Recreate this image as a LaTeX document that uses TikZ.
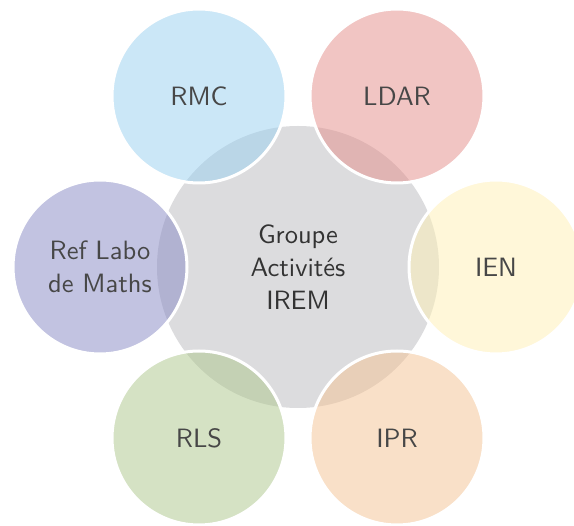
\documentclass[tikz,border=0pt]{standalone}
\usepackage{fontspec}
% 10pt design size of Latin Modern Sans, scaled up
\newfontfamily\labelfamily{lmsans10-regular.otf}
\begin{document}
\begin{tikzpicture}[x=1pt,y=-1pt,
  label font/.style={font=\labelfamily\fontsize{26.5}{33}\selectfont},
  hubnode/.style={circle, minimum size=282pt, inner sep=0pt, fill=hubgray,
    label font, text=black!80, align=center},
  satnode/.style={circle, minimum size=174pt, inner sep=0pt, draw=white,
    line width=3pt, fill opacity=0.5, draw opacity=1, text opacity=1,
    label font, text=black!72, align=center}]
  \definecolor{hubgray}{RGB}{220,220,222}
  \definecolor{cblue}{RGB}{153,209,241}
  \definecolor{cred}{RGB}{229,141,137}
  \definecolor{cyellow}{RGB}{255,241,181}
  \definecolor{cpurple}{RGB}{135,137,197}
  \definecolor{cgreen}{RGB}{173,199,139}
  \definecolor{corange}{RGB}{245,195,147}
  % page frame
  \fill[white] (0,0) rectangle (574,526);
  \useasboundingbox (0,0) rectangle (574,526);
  % central hub
  \node[hubnode] (hub) at (298,267) {Groupe\\Activités\\IREM};
  % surrounding partners, 60 degrees apart
  \node[satnode, fill=cblue]   (rmc)  at (199,96)  {RMC};
  \node[satnode, fill=cred]    (ldar) at (397,96)  {LDAR};
  \node[satnode, fill=cyellow] (ien)  at (496,267) {IEN};
  \node[satnode, fill=corange] (ipr)  at (397,438) {IPR};
  \node[satnode, fill=cgreen]  (rls)  at (199,438) {RLS};
  \node[satnode, fill=cpurple] (labo) at (100,267) {Ref Labo\\de Maths};
\end{tikzpicture}
\end{document}
